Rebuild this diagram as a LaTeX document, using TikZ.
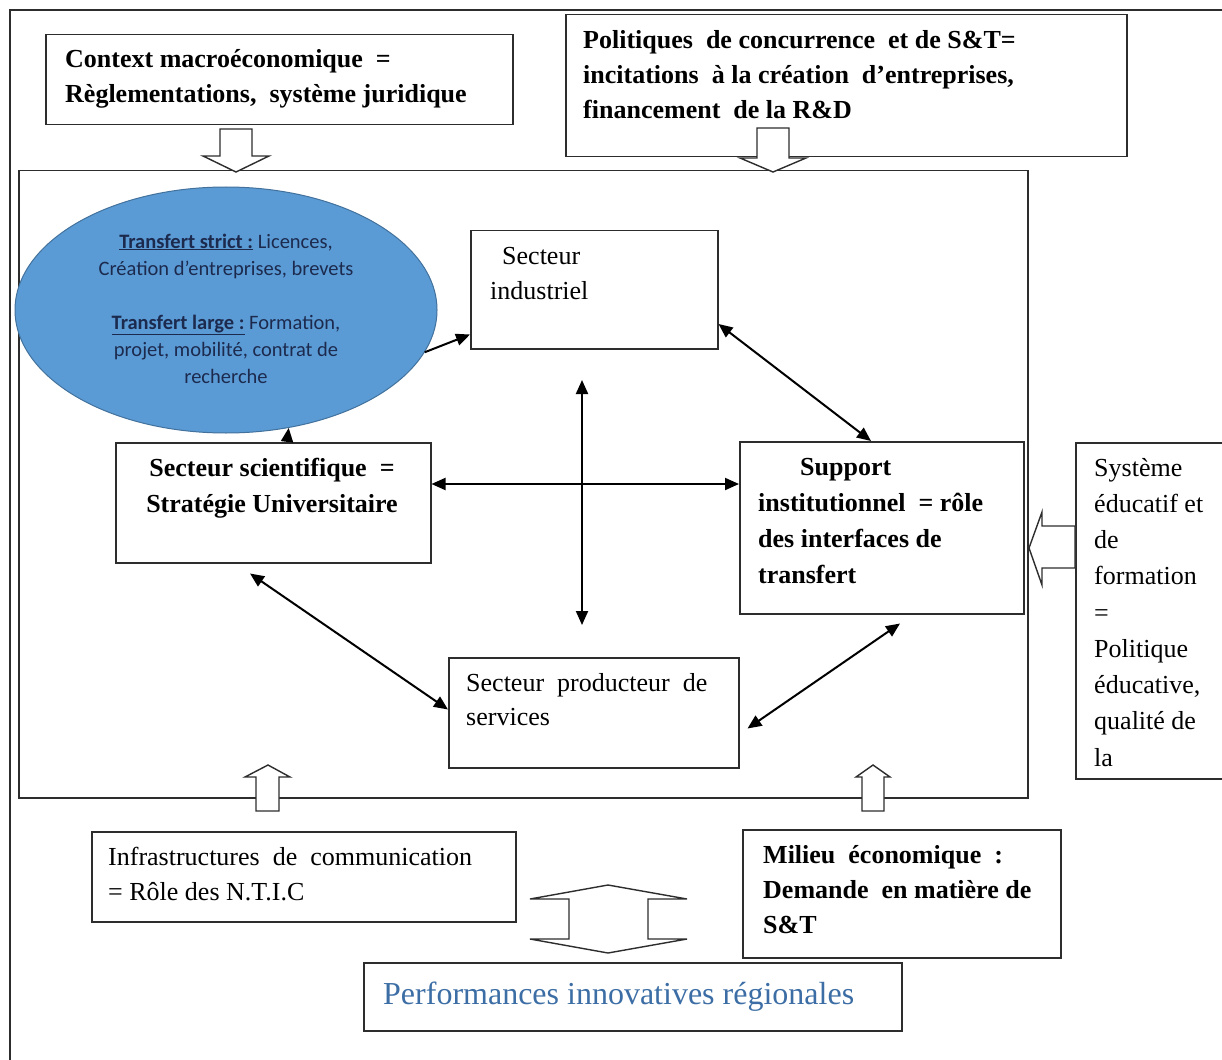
\documentclass[tikz,border=0pt]{standalone}
\usepackage{fontspec}
\setmainfont{Liberation Serif}
\newfontfamily\calfont{Carlito}
\usetikzlibrary{arrows.meta,shapes.geometric}
\definecolor{ellfill}{RGB}{91,155,213}
\definecolor{elldraw}{RGB}{65,113,156}
\definecolor{elltext}{RGB}{28,42,78}
\definecolor{perfblue}{RGB}{60,110,165}
\definecolor{ln}{RGB}{45,45,45}
\begin{document}
\begin{tikzpicture}[x=1pt,y=-1pt,
 >={Triangle[length=14pt,width=12pt]},
 box/.style={draw=ln, line width=1.5pt, inner sep=0pt, anchor=north west, fill=white},
 rt/.style={anchor=base west, inner sep=0pt, font=\fontsize{26}{35}\selectfont},
 bt/.style={anchor=base west, inner sep=0pt, font=\fontsize{26}{35}\selectfont\bfseries},
 et/.style={anchor=base, inner sep=0pt, text=elltext, font=\calfont\fontsize{20.5}{27}\selectfont},
 conn/.style={line width=2pt, black},
 hol/.style={draw=ln, line width=1.4pt, fill=white, line join=miter}
]
\useasboundingbox (0,0) rectangle (1222,1059);
\fill[white] (0,0) rectangle (1222,1059);
% outer border
\draw[ln, line width=1.5pt] (10,1070) -- (10,10) -- (1230,10);
% inner frame
\node[box, fill=none, minimum width=1009pt, minimum height=627pt] (frame) at (18,170) {};
% boxes
\node[box, minimum width=467pt, minimum height=90pt] (ctx) at (45,34) {};
\node[box, minimum width=561pt, minimum height=142pt] (pol) at (565,14) {};
\node[box, minimum width=247pt, minimum height=118pt] (ind) at (470,230) {};
\node[box, minimum width=315pt, minimum height=120pt] (sci) at (115,442) {};
\node[box, minimum width=284pt, minimum height=172pt] (sup) at (739,441) {};
\node[box, minimum width=290pt, minimum height=110pt] (prod) at (448,657) {};
\node[box, minimum width=424pt, minimum height=90pt] (infra) at (91,831) {};
\node[box, minimum width=318pt, minimum height=128pt] (mil) at (742,829) {};
\node[box, minimum width=538pt, minimum height=68pt] (perf) at (363,962) {};
\node[box, minimum width=170pt, minimum height=336pt] (sys) at (1075,442) {};
% ellipse
\node[ellipse, draw=elldraw, fill=ellfill, line width=1pt, inner sep=0pt,
      minimum width=422pt, minimum height=246pt] (ell) at (226,310) {};
\node[et] (e1) at (226,248) {\textbf{\underline{Transfert strict :}} Licences,};
\node[et] (e2) at (226,275) {Création d’entreprises, brevets};
\node[et] (e3) at (226,329) {\textbf{\underline{Transfert large :}} Formation,};
\node[et] (e4) at (226,356) {projet, mobilité, contrat de};
\node[et] (e5) at (226,383) {recherche};
% texts
\foreach \t [count=\i] in {{Context macroéconomique~ =},{Règlementations,~ système juridique}}
  \node[bt] (ctxt\i) at (65,{68+35*(\i-1)}) {\t};
\foreach \t [count=\i] in {{Politiques~ de concurrence~ et de S\&T=},{incitations~ à la création~ d’entreprises,},{financement~ de la R\&D}}
  \node[bt] (polt\i) at (583,{49+35*(\i-1)}) {\t};
\node[rt] (indt1) at (502,264) {Secteur};
\node[rt] (indt2) at (490,299) {industriel};
\node[bt, anchor=base] (scit1) at (272,476) {Secteur scientifique~ =};
\node[bt, anchor=base] (scit2) at (272,512) {Stratégie Universitaire};
\node[bt] (supt1) at (800,475) {Support};
\foreach \t [count=\i] in {{institutionnel~ = rôle},{des interfaces de},{transfert}}
  \node[bt] (supt\i b) at (758,{511+36*(\i-1)}) {\t};
\node[rt] (prodt1) at (466,691) {Secteur~ producteur~ de};
\node[rt] (prodt2) at (466,725) {services};
\node[rt] (infrat1) at (108,865) {Infrastructures~ de~ communication};
\node[rt] (infrat2) at (108,900) {= Rôle des N.T.I.C};
\foreach \t [count=\i] in {{Milieu~ économique~ :},{Demande~ en matière de},{S\&T}}
  \node[bt] (milt\i) at (763,{863+35*(\i-1)}) {\t};
\foreach \t [count=\i] in {Système,{éducatif et},de,formation,=,Politique,{éducative,},{qualité de},la}
  \node[rt] (syst\i) at (1094,{476+36.25*(\i-1)}) {\t};
\node[anchor=base west, inner sep=0pt, text=perfblue, font=\fontsize{32}{36}\selectfont] (perft) at (383,1004) {Performances innovatives régionales};
% connectors
\draw[conn,->] (ell.-12.3) -- ([yshift=15pt]ind.south west);
\draw[conn,->] ([xshift=172pt]sci.north west) -- (ell.-62.7);
\draw[conn,<->] ([yshift=-94pt]ind.north east) -- ([xshift=132pt]sup.north west);
\coordinate (vt) at (582,380);
\coordinate (vb) at (582,625);
\draw[conn,<->] (vt) -- (vb);
\draw[conn,<->] ([yshift=-42pt]sci.north east) -- ([yshift=-43pt]sup.north west);
\coordinate (sp1) at ([xshift=135pt,yshift=-10pt]sci.south west);
\draw[conn,<->] (sp1) -- ([yshift=59pt]prod.south west);
\coordinate (ps1) at ([xshift=8pt,yshift=40pt]prod.south east);
\coordinate (ps2) at ([xshift=161pt,yshift=-9pt]sup.south west);
\draw[conn,<->] (ps1) -- (ps2);
% hollow block arrows
\draw[hol] (220,129) -- (252,129) -- (252,156) -- (269,156) -- (236,172) -- (203,156) -- (220,156) -- cycle;
\draw[hol] (757,128) -- (789,128) -- (789,158) -- (806,158) -- (773,172) -- (740,158) -- (757,158) -- cycle;
\draw[hol] (256,811) -- (256,777) -- (245,777) -- (268,765) -- (290,777) -- (279,777) -- (279,811) -- cycle;
\draw[hol] (862,811) -- (862,777) -- (856,777) -- (873,765) -- (890,777) -- (884,777) -- (884,811) -- cycle;
\draw[hol] (1075,526) -- (1042,526) -- (1042,512) -- (1029,548) -- (1042,585) -- (1042,568) -- (1075,568) -- cycle;
\draw[hol] (569,899) -- (530,899) -- (608,885) -- (687,899) -- (648,899) -- (648,939) -- (687,939) -- (608,953) -- (530,939) -- (569,939) -- cycle;
\end{tikzpicture}
\end{document}
